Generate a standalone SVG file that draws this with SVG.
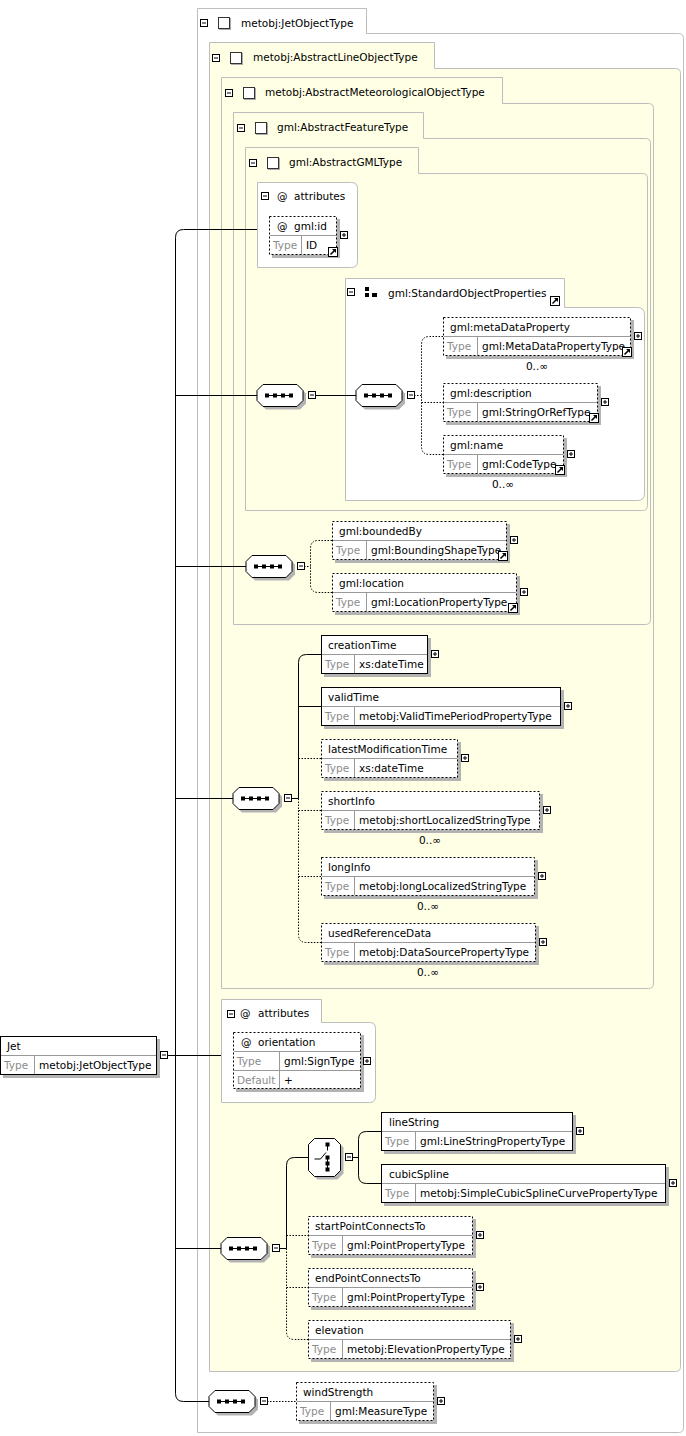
<svg xmlns="http://www.w3.org/2000/svg" xmlns:xlink="http://www.w3.org/1999/xlink" width="686" height="1436" viewBox="0 0 686 1436">
<style>
text{font-family:"DejaVu Sans","Liberation Sans",sans-serif;font-size:10.5px;fill:#000}
.g{fill:#8c8c8c}
.box{fill:#fff;stroke:#000}
.opt{stroke-dasharray:2 2}
.sh{fill:#b3b3b3}
.dv{stroke:#999;fill:none}
.cw{fill:#fff;stroke:#bdbdbd}
.cy{fill:#ffffe6;stroke:#bdbdbd}
.c{fill:none;stroke:#000}
.d{stroke-dasharray:1.5 1.5}
</style>
<defs>
<g id="minus"><rect x="0.5" y="0.5" width="7" height="7" fill="#fff" stroke="#000"/><path d="M2 4H6" stroke="#000"/></g>
<g id="plus"><rect x="0.5" y="0.5" width="7" height="7" fill="#fff" stroke="#000"/><path d="M2 4H6M4 2V6" stroke="#000"/></g>
<g id="link"><rect x="0.5" y="0.5" width="9" height="9" fill="#fff" stroke="#000"/><path d="M2.5 7.5L6.5 3.5" stroke="#000" stroke-width="1.6"/><path d="M4 2H8V6Z" fill="#000"/></g>
<g id="chk"><rect x="1" y="1" width="12" height="12" fill="#aaa"/><rect x="0.5" y="0.5" width="11" height="11" fill="#fff" stroke="#333"/></g>
<g id="seq"><path d="M9 3H43L49 9V19L43 25H9L3 19V9Z" fill="#b3b3b3"/><path d="M6 0H40L46 6V16L40 22H6L0 16V6Z" fill="#fff" stroke="#000"/><path d="M10 11H36" stroke="#000"/><rect x="8" y="9" width="4" height="4"/><rect x="16" y="9" width="4" height="4"/><rect x="24" y="9" width="4" height="4"/><rect x="32" y="9" width="4" height="4"/></g>
<g id="choice"><path d="M9 3H29L35 9V35L29 41H9L3 35V9Z" fill="#b3b3b3"/><path d="M6 0H26L32 6V32L26 38H6L0 32V6Z" fill="#fff" stroke="#000"/><path d="M19 6V12M19 18V31M6 20.5H12L17.5 14" stroke="#000" fill="none"/><rect x="17" y="4" width="4" height="4"/><rect x="17" y="17" width="4" height="4"/><rect x="17" y="23" width="4" height="4"/><rect x="17" y="29" width="4" height="4"/></g>
</defs>

<g id="jetObjectType">
<path class="cw" d="M197.5 8.5H366.5V33.5H678.5Q683.5 33.5 683.5 38.5V1427.5Q683.5 1432.5 678.5 1432.5H197.5Z"/>
<use href="#minus" x="200" y="19"/><use href="#chk" x="218" y="17"/>
<text x="241" y="27">metobj:JetObjectType</text>
</g>
<g id="abstractLineObjectType">
<path class="cy" d="M209.5 42.5H434.5V68.5H675.5Q680.5 68.5 680.5 73.5V1366.5Q680.5 1371.5 675.5 1371.5H209.5Z"/>
<use href="#minus" x="212" y="54"/><use href="#chk" x="230" y="52"/>
<text x="253" y="61">metobj:AbstractLineObjectType</text>
</g>
<g id="abstractMeteorologicalObjectType">
<path class="cy" d="M221.5 77.5H502.5V103.5H648.5Q653.5 103.5 653.5 108.5V983.5Q653.5 988.5 648.5 988.5H221.5Z"/>
<use href="#minus" x="225" y="89"/><use href="#chk" x="243" y="87"/>
<text x="265" y="96">metobj:AbstractMeteorologicalObjectType</text>
</g>
<g id="abstractFeatureType">
<path class="cy" d="M233.5 112.5H423.5V138.5H645.5Q650.5 138.5 650.5 143.5V619.5Q650.5 624.5 645.5 624.5H233.5Z"/>
<use href="#minus" x="237" y="124"/><use href="#chk" x="255" y="122"/>
<text x="277" y="131">gml:AbstractFeatureType</text>
</g>
<g id="abstractGMLType">
<path class="cy" d="M245.5 147.5H418.5V173.5H642.5Q647.5 173.5 647.5 178.5V505.5Q647.5 510.5 642.5 510.5H245.5Z"/>
<use href="#minus" x="249" y="159"/><use href="#chk" x="267" y="157"/>
<text x="289" y="166">gml:AbstractGMLType</text>
</g>
<g id="attributesGmlId">
<path class="cw" d="M257.5 182.5H351.5Q357.5 182.5 357.5 188.5V261.5Q357.5 267.5 351.5 267.5H257.5Z"/>
<use href="#minus" x="261" y="192"/>
<text x="277" y="200">@</text><text x="294" y="200">attributes</text>
</g>
<g id="standardObjectProperties">
<path class="cw" d="M345.5 278.5H564.5V307.5H637.5Q644.5 307.5 644.5 314.5V493.5Q644.5 500.5 637.5 500.5H345.5Z"/>
<use href="#minus" x="347" y="288"/>
<rect x="365" y="287" width="4" height="4"/><rect x="365" y="293" width="4" height="4"/><rect x="372" y="293" width="5" height="4"/>
<text x="388" y="297">gml:StandardObjectProperties</text>
<use href="#link" x="550" y="296"/>
</g>
<g id="attributesOrientation">
<path class="cw" d="M221.5 999.5H321.5V1022.5H369.5Q375.5 1022.5 375.5 1028.5V1096.5Q375.5 1102.5 369.5 1102.5H221.5Z"/>
<use href="#minus" x="227" y="1010"/>
<text x="240" y="1017">@</text><text x="258" y="1017">attributes</text>
</g>

<g id="connectors">
<path class="c" d="M257 229.5H183.5Q175.5 229.5 175.5 237.5V1393.5Q175.5 1401.5 183.5 1401.5H209M175.5 395.5H257M175.5 566.5H246M175.5 798.5H233M168 1055.5H221M175.5 1248.5H221"/>
<path class="c" d="M315 395.5H356"/>
<path class="c d" d="M414 395.5H421.5M443 336.5H429.5Q421.5 336.5 421.5 344.5V446.5Q421.5 454.5 429.5 454.5H443M421.5 402.5H443"/>
<path class="c d" d="M304 566.5H310.5M332 540.5H318.5Q310.5 540.5 310.5 548.5V584.5Q310.5 592.5 318.5 592.5H332"/>
<path class="c" d="M291 798.5H298.5M321 654.5H306.5Q298.5 654.5 298.5 662.5V798.5M298.5 706.5H321"/>
<path class="c d" d="M298.5 758.5H321M298.5 798.5V934.5Q298.5 942.5 306.5 942.5H321M298.5 810.5H321M298.5 876.5H321"/>
<path class="c" d="M279 1248.5H286.5M308 1157.5H294.5Q286.5 1157.5 286.5 1165.5V1248.5"/>
<path class="c d" d="M286.5 1248.5V1331.5Q286.5 1339.5 294.5 1339.5H308M286.5 1235.5H308M286.5 1287.5H308"/>
<path class="c" d="M352 1157.5H358.5M381 1131.5H366.5Q358.5 1131.5 358.5 1139.5V1175.5Q358.5 1183.5 366.5 1183.5H381"/>
<path class="c d" d="M267 1401.5H296"/>
</g>

<g id="seqGML"><use href="#seq" transform="translate(257 384.5)"/><use href="#minus" x="308" y="391"/></g>
<g id="seqStandardObjectProperties"><use href="#seq" transform="translate(356 384.5)"/><use href="#minus" x="407" y="391"/></g>
<g id="seqFeature"><use href="#seq" transform="translate(246 555.5)"/><use href="#minus" x="297" y="562"/></g>
<g id="seqMeteorological"><use href="#seq" transform="translate(233 787.5)"/><use href="#minus" x="284" y="794"/></g>
<g id="seqLine"><use href="#seq" transform="translate(221 1237.5)"/><use href="#minus" x="272" y="1244"/></g>
<g id="seqJet"><use href="#seq" transform="translate(209 1390.5)"/><use href="#minus" x="260" y="1397"/></g>
<g id="choiceLine"><use href="#choice" transform="translate(308.5 1138.5)"/><use href="#minus" x="345" y="1153"/></g>

<g id="el-gmlId">
<rect class="sh" x="272" y="219" width="68" height="39"/>
<rect class="box opt" x="269.5" y="216.5" width="67" height="38"/>
<path class="dv" d="M270 235.5H336M301.5 236V254"/>
<text x="277" y="230">@</text><text x="294" y="230">gml:id</text>
<text class="g" x="273" y="249">Type</text><text x="306" y="249">ID</text>
<use href="#plus" x="340" y="231"/><use href="#link" x="328" y="247"/>
</g>
<g id="el-metaDataProperty">
<rect class="sh" x="446" y="320" width="188" height="39"/>
<rect class="box opt" x="443.5" y="317.5" width="187" height="38"/>
<path class="dv" d="M444 336.5H630M477.5 337V355"/>
<text x="450" y="331">gml:metaDataProperty</text>
<text class="g" x="447" y="350">Type</text><text x="482" y="350">gml:MetaDataPropertyType</text>
<use href="#plus" x="634" y="332"/><use href="#link" x="622" y="347"/>
<text x="537" y="370" text-anchor="middle">0..∞</text>
</g>
<g id="el-description">
<rect class="sh" x="446" y="386" width="155" height="39"/>
<rect class="box opt" x="443.5" y="383.5" width="154" height="38"/>
<path class="dv" d="M444 402.5H597M477.5 403V421"/>
<text x="450" y="397">gml:description</text>
<text class="g" x="447" y="416">Type</text><text x="482" y="416">gml:StringOrRefType</text>
<use href="#plus" x="601" y="398"/><use href="#link" x="589" y="413"/>
</g>
<g id="el-name">
<rect class="sh" x="446" y="438" width="121" height="39"/>
<rect class="box opt" x="443.5" y="435.5" width="120" height="38"/>
<path class="dv" d="M444 454.5H563M477.5 455V473"/>
<text x="450" y="449">gml:name</text>
<text class="g" x="447" y="468">Type</text><text x="482" y="468">gml:CodeType</text>
<use href="#plus" x="567" y="450"/><use href="#link" x="555" y="465"/>
<text x="503" y="488" text-anchor="middle">0..∞</text>
</g>
<g id="el-boundedBy">
<rect class="sh" x="335" y="524" width="175" height="39"/>
<rect class="box opt" x="332.5" y="521.5" width="174" height="38"/>
<path class="dv" d="M333 540.5H506M366.5 541V559"/>
<text x="339" y="535">gml:boundedBy</text>
<text class="g" x="336" y="554">Type</text><text x="371" y="554">gml:BoundingShapeType</text>
<use href="#plus" x="510" y="536"/><use href="#link" x="498" y="551"/>
</g>
<g id="el-location">
<rect class="sh" x="335" y="576" width="185" height="39"/>
<rect class="box opt" x="332.5" y="573.5" width="184" height="38"/>
<path class="dv" d="M333 592.5H516M366.5 593V611"/>
<text x="339" y="587">gml:location</text>
<text class="g" x="336" y="606">Type</text><text x="371" y="606">gml:LocationPropertyType</text>
<use href="#plus" x="520" y="588"/><use href="#link" x="508" y="603"/>
</g>
<g id="el-creationTime">
<rect class="sh" x="324" y="638" width="107" height="39"/>
<rect class="box" x="321.5" y="635.5" width="106" height="38"/>
<path class="dv" d="M322 654.5H427M354.5 655V673"/>
<text x="328" y="649">creationTime</text>
<text class="g" x="325" y="668">Type</text><text x="359" y="668">xs:dateTime</text>
<use href="#plus" x="431" y="650"/>
</g>
<g id="el-validTime">
<rect class="sh" x="324" y="690" width="240" height="39"/>
<rect class="box" x="321.5" y="687.5" width="239" height="38"/>
<path class="dv" d="M322 706.5H560M354.5 707V725"/>
<text x="328" y="701">validTime</text>
<text class="g" x="325" y="720">Type</text><text x="359" y="720">metobj:ValidTimePeriodPropertyType</text>
<use href="#plus" x="564" y="702"/>
</g>
<g id="el-latestModificationTime">
<rect class="sh" x="324" y="742" width="137" height="39"/>
<rect class="box opt" x="321.5" y="739.5" width="136" height="38"/>
<path class="dv" d="M322 758.5H457M354.5 759V777"/>
<text x="328" y="753">latestModificationTime</text>
<text class="g" x="325" y="772">Type</text><text x="359" y="772">xs:dateTime</text>
<use href="#plus" x="461" y="754"/>
</g>
<g id="el-shortInfo">
<rect class="sh" x="324" y="794" width="219" height="39"/>
<rect class="box opt" x="321.5" y="791.5" width="218" height="38"/>
<path class="dv" d="M322 810.5H539M354.5 811V829"/>
<text x="328" y="805">shortInfo</text>
<text class="g" x="325" y="824">Type</text><text x="359" y="824">metobj:shortLocalizedStringType</text>
<use href="#plus" x="543" y="806"/>
<text x="430" y="844" text-anchor="middle">0..∞</text>
</g>
<g id="el-longInfo">
<rect class="sh" x="324" y="860" width="214" height="39"/>
<rect class="box opt" x="321.5" y="857.5" width="213" height="38"/>
<path class="dv" d="M322 876.5H534M354.5 877V895"/>
<text x="328" y="871">longInfo</text>
<text class="g" x="325" y="890">Type</text><text x="359" y="890">metobj:longLocalizedStringType</text>
<use href="#plus" x="538" y="872"/>
<text x="428" y="910" text-anchor="middle">0..∞</text>
</g>
<g id="el-usedReferenceData">
<rect class="sh" x="324" y="926" width="215" height="39"/>
<rect class="box opt" x="321.5" y="923.5" width="214" height="38"/>
<path class="dv" d="M322 942.5H535M354.5 943V961"/>
<text x="328" y="937">usedReferenceData</text>
<text class="g" x="325" y="956">Type</text><text x="359" y="956">metobj:DataSourcePropertyType</text>
<use href="#plus" x="539" y="938"/>
<text x="428" y="976" text-anchor="middle">0..∞</text>
</g>
<g id="el-orientation">
<rect class="sh" x="236" y="1035" width="128" height="57"/>
<rect class="box opt" x="233.5" y="1032.5" width="127" height="56"/>
<path class="dv" d="M234 1051.5H360M234 1070.5H360M279.5 1052V1088"/>
<text x="241" y="1046">@</text><text x="258" y="1046">orientation</text>
<text class="g" x="237" y="1065">Type</text><text x="284" y="1065">gml:SignType</text>
<text class="g" x="237" y="1084">Default</text><text x="284" y="1084">+</text>
<use href="#plus" x="363" y="1057"/>
</g>
<g id="el-lineString">
<rect class="sh" x="384" y="1115" width="192" height="39"/>
<rect class="box" x="381.5" y="1112.5" width="191" height="38"/>
<path class="dv" d="M382 1131.5H572M415.5 1132V1150"/>
<text x="389" y="1126">lineString</text>
<text class="g" x="385" y="1145">Type</text><text x="420" y="1145">gml:LineStringPropertyType</text>
<use href="#plus" x="576" y="1127"/>
</g>
<g id="el-cubicSpline">
<rect class="sh" x="384" y="1167" width="285" height="39"/>
<rect class="box" x="381.5" y="1164.5" width="284" height="38"/>
<path class="dv" d="M382 1183.5H665M415.5 1184V1202"/>
<text x="389" y="1178">cubicSpline</text>
<text class="g" x="385" y="1197">Type</text><text x="420" y="1197">metobj:SimpleCubicSplineCurvePropertyType</text>
<use href="#plus" x="669" y="1179"/>
</g>
<g id="el-startPointConnectsTo">
<rect class="sh" x="311" y="1219" width="165" height="39"/>
<rect class="box opt" x="308.5" y="1216.5" width="164" height="38"/>
<path class="dv" d="M309 1235.5H472M342.5 1236V1254"/>
<text x="315" y="1230">startPointConnectsTo</text>
<text class="g" x="312" y="1249">Type</text><text x="347" y="1249">gml:PointPropertyType</text>
<use href="#plus" x="476" y="1231"/>
</g>
<g id="el-endPointConnectsTo">
<rect class="sh" x="311" y="1271" width="165" height="39"/>
<rect class="box opt" x="308.5" y="1268.5" width="164" height="38"/>
<path class="dv" d="M309 1287.5H472M342.5 1288V1306"/>
<text x="315" y="1282">endPointConnectsTo</text>
<text class="g" x="312" y="1301">Type</text><text x="347" y="1301">gml:PointPropertyType</text>
<use href="#plus" x="476" y="1283"/>
</g>
<g id="el-elevation">
<rect class="sh" x="311" y="1323" width="203" height="39"/>
<rect class="box opt" x="308.5" y="1320.5" width="202" height="38"/>
<path class="dv" d="M309 1339.5H510M342.5 1340V1358"/>
<text x="315" y="1334">elevation</text>
<text class="g" x="312" y="1353">Type</text><text x="347" y="1353">metobj:ElevationPropertyType</text>
<use href="#plus" x="514" y="1335"/>
</g>
<g id="el-windStrength">
<rect class="sh" x="299" y="1385" width="138" height="39"/>
<rect class="box opt" x="296.5" y="1382.5" width="137" height="38"/>
<path class="dv" d="M297 1401.5H433M330.5 1402V1420"/>
<text x="303" y="1396">windStrength</text>
<text class="g" x="300" y="1415">Type</text><text x="335" y="1415">gml:MeasureType</text>
<use href="#plus" x="437" y="1397"/>
</g>
<g id="el-jet">
<rect class="sh" x="3" y="1039" width="157" height="39"/>
<rect class="box" x="0.5" y="1036.5" width="156" height="38"/>
<path class="dv" d="M1 1055.5H156M34.5 1056V1074"/>
<text x="7" y="1050">Jet</text>
<text class="g" x="4" y="1069">Type</text><text x="39" y="1069">metobj:JetObjectType</text>
<use href="#minus" x="160" y="1051"/>
</g>
</svg>
